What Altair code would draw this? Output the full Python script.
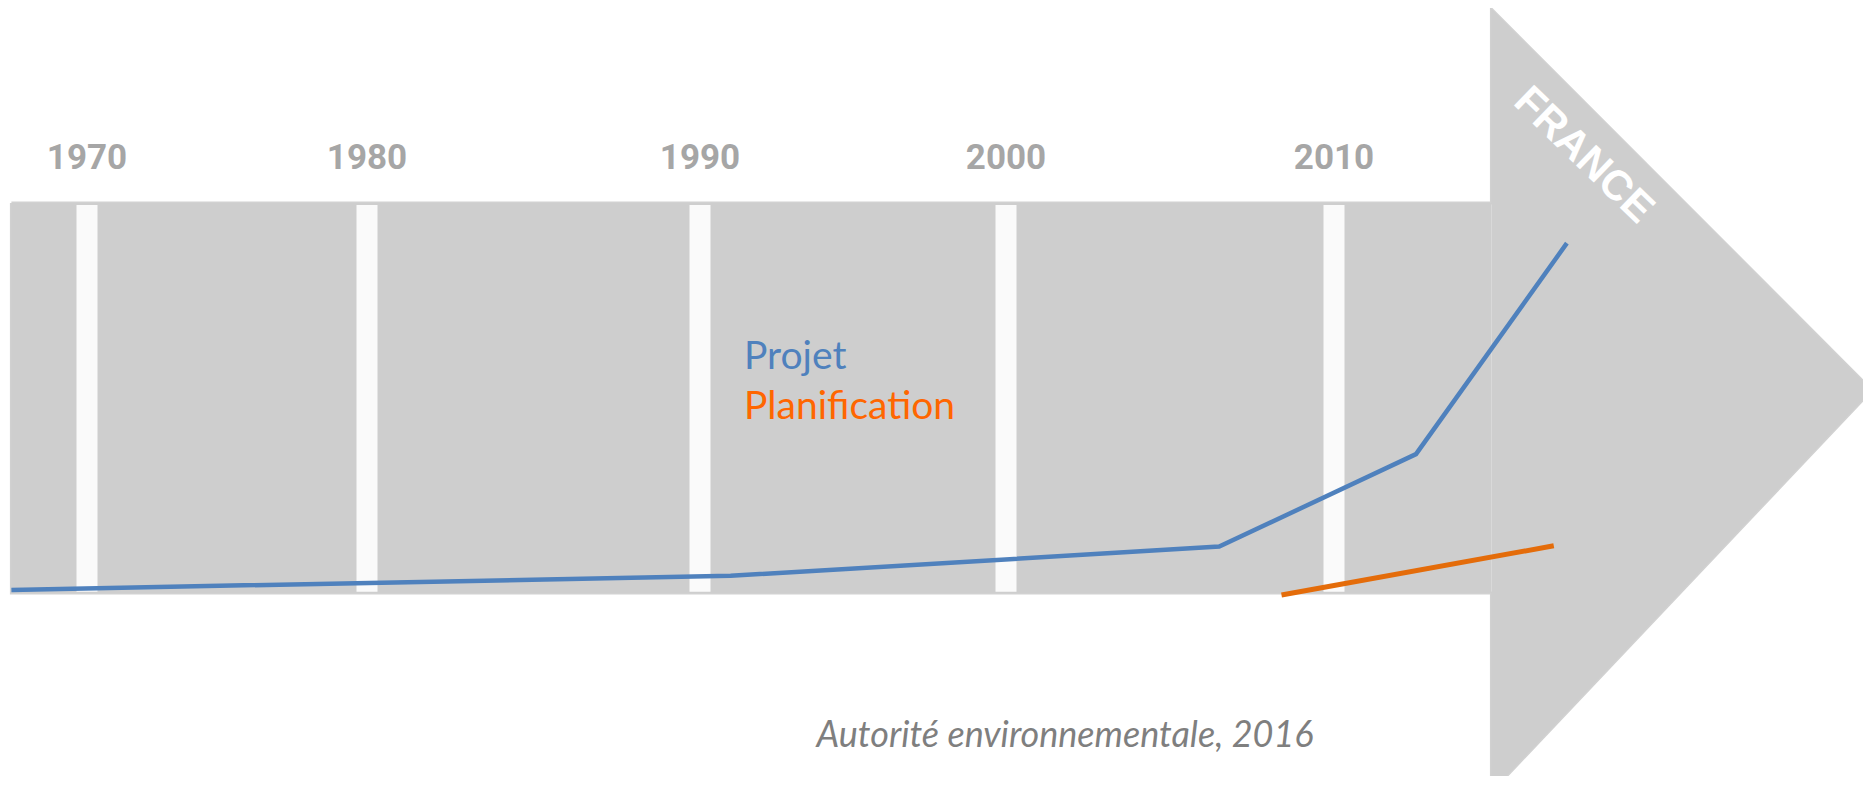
import altair as alt
import pandas as pd

# ---- data ----
tick_years = [1970, 1980, 1990, 2000, 2010]
tick_labels = ["1970", "1980", "1990", "2000", "2010"]

projet_years = [1967.3, 1991.0, 2006.5, 2012.5, 2017.1]
projet_values = [0.8, 4.4, 11.9, 35.6, 89.7]

planif_years = [2008.4, 2016.7]
planif_values = [-0.5, 12.1]

# arrow outline (years / index units)
body_x = [1967.3, 2014.8]
body_y = [0, 100]
head_x = [2014.8, 2026.4]
head_top = [149.7, 52.0]
head_bottom = [-51.0, 52.0]
outline_x = [1967.3, 2014.8, 2014.8, 2026.4, 2014.8, 2014.8, 1967.3, 1967.3]
outline_y = [100, 100, 149.7, 52.0, -51.0, 0, 0, 100]

# ---- scales ----
xs = alt.Scale(domain=tick_years, range=[79, 359, 692, 998, 1326], zero=False, nice=False)
ys = alt.Scale(domain=[0, 100], range=[585, 195], zero=False, nice=False)

GRAY = "#CECECE"

body_df = pd.DataFrame({"x": [body_x[0]], "x2": [body_x[1]], "y": [body_y[0]], "y2": [body_y[1]]})
head_df = pd.DataFrame({"x": head_x, "top": head_top, "bottom": head_bottom})
outline_df = pd.DataFrame({"x": outline_x, "y": outline_y, "o": list(range(len(outline_x)))})
grid_df = pd.DataFrame({"year": tick_years, "label": tick_labels, "lo": [0.3] * 5, "hi": [99.5] * 5})
projet_df = pd.DataFrame({"year": projet_years, "v": projet_values})
planif_df = pd.DataFrame({"year": planif_years, "v": planif_values})

X = lambda f: alt.X(f, type="quantitative", scale=xs, axis=None)
Y = lambda f: alt.Y(f, type="quantitative", scale=ys, axis=None)

outline = alt.Chart(outline_df).mark_line(color="#BDBDBD", strokeWidth=3, opacity=0.7).encode(
    x=X("x"), y=Y("y"), order="o:Q"
)
body = alt.Chart(body_df).mark_rect(color=GRAY).encode(
    x=X("x"), x2="x2", y=Y("y"), y2="y2"
)
head = alt.Chart(head_df).mark_area(color=GRAY, opacity=1).encode(
    x=X("x"), y=Y("top"), y2="bottom"
)
grid = alt.Chart(grid_df).mark_rule(color="#FAFAFA", strokeWidth=21).encode(
    x=X("year"), y=Y("lo"), y2="hi"
)
labels = alt.Chart(grid_df).mark_text(
    font="Roboto, sans-serif",
    fontWeight="bold", fontSize=35, color="#A6A6A6", baseline="middle", align="center"
).encode(x=X("year"), y=alt.Y(datum=111.5, type="quantitative", scale=ys, axis=None), text="label:N")

line_projet = alt.Chart(projet_df).mark_line(color="#4F81BD", strokeWidth=4.5, strokeCap="butt").encode(
    x=X("year"), y=Y("v")
)
line_planif = alt.Chart(planif_df).mark_line(color="#E46C0A", strokeWidth=5, strokeCap="butt").encode(
    x=X("year"), y=Y("v")
)

def note(txt, xv, yv, **kw):
    return alt.Chart(pd.DataFrame({"t": [txt]})).mark_text(**kw).encode(
        x=alt.X(datum=xv, type="quantitative", scale=xs, axis=None),
        y=alt.Y(datum=yv, type="quantitative", scale=ys, axis=None),
        text="t:N",
    )

t_projet = note("Projet", 1991.44, 57.4, font="Lato", fontSize=39, color="#4F81BD",
                align="left", baseline="alphabetic")
t_planif = note("Planification", 1991.44, 44.6, font="Lato", fontSize=39, color="#FF6600",
                align="left", baseline="alphabetic")
t_france = note("FRANCE", 2017.62, 112.3, font="Liberation Sans", fontWeight="bold", fontSize=42,
                color="white", align="center", baseline="middle", angle=44)
t_source = note("Autorité environnementale, 2016", 2001.8, -39.5, font="Lato", fontStyle="italic",
                fontSize=36, color="#7F7F7F", align="center", baseline="alphabetic")

chart = alt.layer(
    outline, body, head, grid, labels, line_projet, line_planif,
    t_projet, t_planif, t_france, t_source
).properties(
    width=1855, height=768, padding=0, autosize=alt.AutoSizeParams(type="none"), background="white"
).configure_view(stroke=None)

chart.save("out.html", embed_options={"renderer": "svg", "actions": False})
